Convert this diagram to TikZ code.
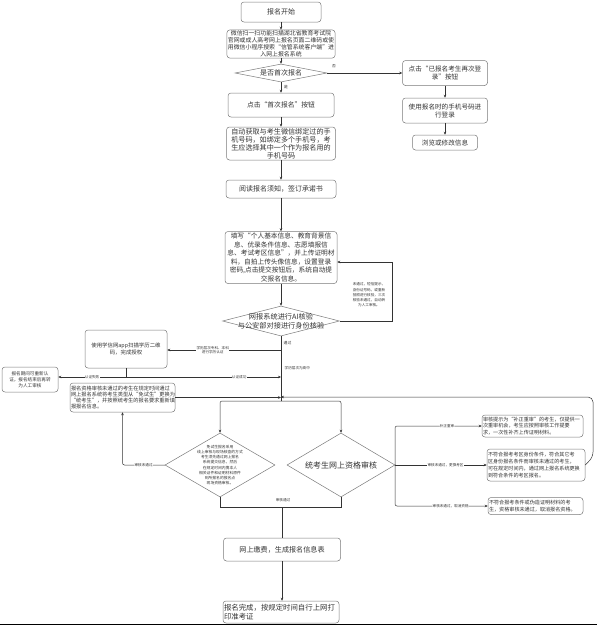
\documentclass[tikz,border=0pt]{standalone}
\usepackage{fontspec}
\setmainfont{Noto Sans CJK SC}
\usetikzlibrary{shapes.geometric,arrows.meta}
\definecolor{ln}{HTML}{333333}
\definecolor{bd}{HTML}{7A7A7A}
\definecolor{tx}{HTML}{333333}
\newcommand{\fsz}[2]{\fontsize{#1}{#2}\selectfont}
\begin{document}
\begin{tikzpicture}[x=1pt,y=-1pt,
  box/.style={draw=bd, rounded corners=3pt, fill=white, text=tx, inner sep=1pt, align=center, line width=0.5pt},
  lbox/.style={box, align=left},
  dia/.style={draw=bd, diamond, inner sep=0pt, line width=0.5pt, fill=white},
  dtext/.style={text=tx, align=center, inner sep=0pt},
  lbl/.style={text=tx, fill=white, inner sep=0.3pt, align=center, font=\fsz{3.6}{4.3}},
  arr/.style={draw=ln, line width=0.5pt, -{Stealth[length=3pt,width=2.6pt]}},
  con/.style={draw=ln, line width=0.5pt},
]
\useasboundingbox (0,0) rectangle (597,625);
\fill[white] (0,0) rectangle (597,625);

% main column
\node[box, minimum width=80pt, minimum height=20pt, font=\fsz{7}{8}] (start) at (281,12) {报名开始};
\node[box, minimum width=108pt, minimum height=28pt, font=\fsz{5.9}{6.9}] (b2) at (281,44) {微信扫一扫功能扫描湖北省教育考试院\\官网或成人高考网上报名页面二维码或使\\用微信小程序搜索“信管系统客户端”进\\入网上报名系统};
\node[dia, minimum width=92pt, minimum height=18pt] (d1) at (281,73) {};
\node[dtext, font=\fsz{7}{8}] (d1t) at (281,73) {是否首次报名};
\node[box, minimum width=106pt, minimum height=24pt, font=\fsz{6.8}{8}] (first) at (281,105) {点击“首次报名”按钮};
\node[box, minimum width=109pt, minimum height=33pt, font=\fsz{7.1}{8}] (auto) at (281,143.5) {自动获取与考生微信绑定过的手\\机号码，如绑定多个手机号，考\\生应选择其中一个作为报名用的\\手机号码};
\node[box, minimum width=110pt, minimum height=18pt, font=\fsz{7}{8}] (read) at (281,189) {阅读报名须知，签订承诺书};
\node[box, minimum width=112pt, minimum height=52pt, font=\fsz{6.7}{8.6}] (fill) at (281,257.5) {填写“个人基本信息、教育背景信\\息、优录条件信息、志愿填报信\\息、考试考区信息”，并上传证明材\\料，自拍上传头像信息，设置登录\\密码,点击提交按钮后，系统自动提\\交报名信息。};
\node[dia, minimum width=117pt, minimum height=30pt] (ai) at (281,321) {};
\node[dtext, font=\fsz{7.2}{9}] (ait) at (281,321) {网报系统进行AI核验\\与公安部对接进行身份核验};

% right column
\node[box, minimum width=85pt, minimum height=25pt, font=\fsz{6.6}{8}] (relog) at (445,73) {点击“已报名考生再次登\\录”按钮};
\node[box, minimum width=85pt, minimum height=25pt, font=\fsz{6.6}{8}] (phone) at (445,110.5) {使用报名时的手机号码进\\行登录};
\node[box, minimum width=65pt, minimum height=15pt, font=\fsz{6.6}{8}] (browse) at (445,142.5) {浏览或修改信息};

% left side
\node[box, minimum width=82pt, minimum height=38pt, font=\fsz{5.4}{6.8}] (xuexin) at (126,349) {使用学信网app扫描学历二维\\码，完成授权};
\node[box, minimum width=56pt, minimum height=25pt, font=\fsz{4.6}{5.8}] (fail) at (30,379.5) {报名期间可重新认\\证，报名结束后再转\\为人工审核};
\node[lbox, text width=103pt, minimum height=29pt, font=\fsz{5.2}{6.3}] (recheck) at (122.5,397.5) {报名资格审核未通过的考生在规定时间通过\\网上报名系统将考生类型从“免试生”更换为\\“统考生”，并按照统考生的报名要求重新填\\报报名信息。};

% diamonds
\node[dia, minimum width=110pt, minimum height=64pt] (ms) at (220,465) {};
\node[dtext, font=\fsz{3.8}{5.1}] (mst) at (220,465) {免试生报名采用\\线上审核与现场核查的方式\\考生须先通过网上报名\\系统提交信息，然后\\在规定时间内携本人\\相关证件和证明材料原件\\到所报名的报名点\\现场资格审核。};
\node[dia, minimum width=108pt, minimum height=64pt] (tk) at (341,465) {};
\node[dtext, font=\fsz{8}{9}] (tkt) at (341,465) {统考生网上资格审核};

% right boxes
\node[lbox, text width=99pt, minimum height=22pt, font=\fsz{5.1}{6.4}] (bz) at (532.5,426) {审核提示为“补正重审”的考生，仅提供一\\次重审机会，考生应按照审核工作提要\\求，一次性补齐上传证明材料。};
\node[lbox, text width=96pt, minimum height=32pt, font=\fsz{5.1}{6.8}] (change) at (536,465) {不符合报考考区身份条件，符合其它考\\区身份报名条件而审核未通过的考生，\\可在规定时间内，通过网上报名系统更换\\到符合条件的考区报名。};
\node[lbox, text width=93pt, minimum height=17pt, font=\fsz{5.1}{6.4}] (cancel) at (535.5,506) {不符合报考条件或伪造证明材料的考\\生，资格审核未通过，取消报名资格。};

% bottom
\node[box, minimum width=117pt, minimum height=23pt, font=\fsz{7.1}{8}] (pay) at (282,549.5) {网上缴费，生成报名信息表};
\node[lbox, text width=114pt, minimum height=22pt, font=\fsz{7.4}{9}] (final) at (281,612) {报名完成，按规定时间自行上网打\\印准考证};

% coordinates
\coordinate (lpA) at (392,321);
\coordinate (lpB) at (392,262);
\coordinate (v350) at (281,350);
\coordinate (br) at (126,377);
\coordinate (j377) at (281,377);
\coordinate (j397) at (281,397);
\coordinate (split) at (281,401);
\coordinate (m) at (282,507);
\coordinate (rv1) at (395,426);
\coordinate (rv3) at (395,506);
\coordinate (rl1) at (593,457);
\coordinate (rl2) at (593,397);

% connectors main
\draw[arr] (start) -- (b2);
\draw[arr] (b2) -- (d1);
\draw[arr] (d1) -- (first);
\draw[arr] (first) -- (auto);
\draw[arr] (auto) -- (read);
\draw[arr] (read) -- (fill);
\draw[arr] (fill) -- (ai);
\node[text=tx, font=\fsz{3.8}{4.5}] (yes) at (286,87) {是};
\draw[arr] (d1.east) -- (relog.west);
\node[text=tx, font=\fsz{3.8}{4.5}] (no) at (334,66) {否};
\draw[arr] (relog) -- (phone);
\draw[arr] (phone) -- (browse);

% AI loop
\draw[arr] (ai.east) -- (lpA) -- (lpB) -- (lpB -| fill.east);
\node[text=tx, font=\fsz{3.6}{5.2}, align=center] (looptxt) at (369,295) {未通过，短信提示，\\身份证号码，或重新\\拍照进行核验，三次\\核验未通过，自动转\\为人工审核。};

% main vertical
\draw[con] (ai.south) -- (split);
\node[text=tx, font=\fsz{3.8}{4.5}, anchor=west, inner sep=0.5pt] (pass1) at (283,343) {通过};
\node[text=tx, font=\fsz{3.6}{4.5}, anchor=west, inner sep=0.5pt] (gaozh) at (284,368) {学历层次为高中};
\draw[arr] (v350) -- (v350 -| xuexin.east) node[lbl, pos=0.6] {学历层次专科、本科\\进行学历认证};
\draw[con] (xuexin.south) -- (br);
\draw[arr] (br) -- (br -| fail.east) node[lbl, midway] {认证失败};
\draw[arr] (br) -- (j377) node[lbl, pos=0.73] {认证成功};
\draw[arr] (recheck.east) -- (recheck.east -| j397);

% split to diamonds
\draw[arr, rounded corners=2pt] (split) -| (ms.north);
\draw[arr, rounded corners=2pt] (split) -| (tk.north);
\draw[arr, rounded corners=2pt] (ms.west) -| (recheck.south) node[lbl, pos=0.25] {审核未通过};

% merge
\draw[con, line width=1pt] (ms.south) -- (ms.south |- m) -- (tk.south |- m) -- (tk.south);
\draw[con, line width=1pt] (m) -- (m |- pay.north);
\node[text=tx, font=\fsz{3.6}{4.5}] (passlbl) at (283,500) {审核通过};
\draw[arr] (pay.south) -- (pay.south |- final.north);

% right branches
\draw[arr, rounded corners=2pt] (tk.east) -- (rv1) -- (bz.west) node[lbl, pos=0.6] {补正重审};
\draw[arr] (tk.east) -- (change.west) node[lbl, pos=0.55] {审核未通过，更换考区};
\draw[arr, rounded corners=2pt] (tk.east) -- (rv3) -- (cancel.west) node[lbl, pos=0.6] {审核未通过，取消资格};
\draw[arr, rounded corners=5pt] (change.east) -- (rl1) -- (rl2) -- (j397);

% page bottom rule
\draw[black, line width=1.2pt] (0,624.4) -- (597,624.4);
\end{tikzpicture}
\end{document}
